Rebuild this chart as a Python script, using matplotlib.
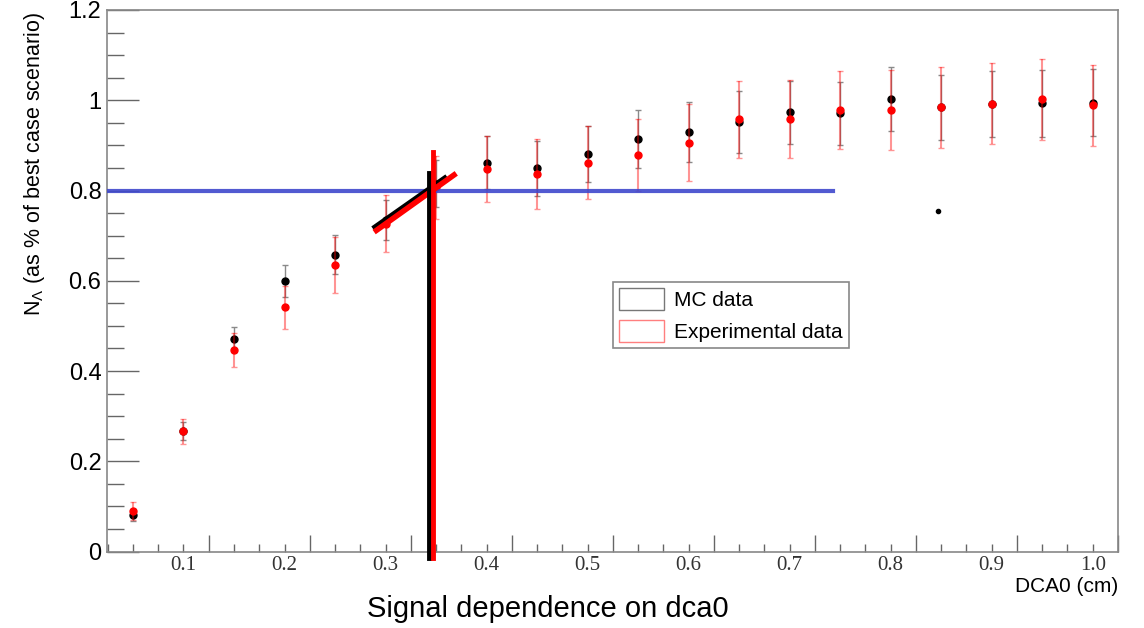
import numpy as np
import matplotlib
matplotlib.use("Agg")
import matplotlib.pyplot as plt
from matplotlib.patches import Patch
from matplotlib.ticker import FixedLocator, MultipleLocator
import matplotlib.transforms as mtransforms

plt.rcParams['font.family'] = ['Liberation Sans', 'DejaVu Sans']
plt.rcParams['mathtext.fontset'] = 'custom'
plt.rcParams['mathtext.rm'] = 'Liberation Sans'
plt.rcParams['mathtext.it'] = 'Liberation Sans:italic'

# dca0 cut values (cm)
dca = [0.05, 0.10, 0.15, 0.20, 0.25, 0.30, 0.35, 0.40, 0.45, 0.50,
       0.55, 0.60, 0.65, 0.70, 0.75, 0.80, 0.85, 0.90, 0.95, 1.00]

mc_val = [0.081, 0.266, 0.470, 0.600, 0.658, 0.735, 0.815, 0.862, 0.849, 0.880,
          0.914, 0.930, 0.952, 0.973, 0.971, 1.002, 0.984, 0.992, 0.993, 0.995]
mc_err = [0.014, 0.020, 0.027, 0.035, 0.043, 0.045, 0.052, 0.058, 0.061, 0.062,
          0.064, 0.066, 0.068, 0.070, 0.070, 0.071, 0.072, 0.073, 0.074, 0.074]

exp_val = [0.090, 0.266, 0.446, 0.541, 0.635, 0.726, 0.807, 0.848, 0.837, 0.862,
           0.879, 0.906, 0.958, 0.958, 0.978, 0.978, 0.984, 0.992, 1.002, 0.989]
exp_err = [0.020, 0.027, 0.038, 0.047, 0.062, 0.063, 0.070, 0.073, 0.078, 0.080,
           0.080, 0.085, 0.085, 0.086, 0.087, 0.089, 0.090, 0.090, 0.090, 0.090]

# stray point
stray_x = [0.847]
stray_y = [0.754]

# 80% threshold line and fitted crossings
thr_y = 0.8
thr_x = [0.0243, 0.743]
mc_fit_x = [0.2875, 0.3608]
mc_fit_y = [0.7153, 0.8306]
exp_fit_x = [0.2887, 0.370]
exp_fit_y = [0.708, 0.838]
mc_cut_x = 0.343
mc_cut_y = [-0.0144, 0.8394]
exp_cut_x = 0.347
exp_cut_y = [-0.0144, 0.8847]

xlabels = ['0.1', '0.2', '0.3', '0.4', '0.5', '0.6', '0.7', '0.8', '0.9', '1.0']
xlabel_pos = [0.1, 0.2, 0.3, 0.4, 0.5, 0.6, 0.7, 0.8, 0.9, 1.0]

fig = plt.figure(figsize=(11.44, 6.28), dpi=100)
ax = fig.add_axes([107/1144, 1-551.5/628, (1118-107)/1144, (551.5-10)/628])

ax.errorbar(dca, mc_val, yerr=mc_err, fmt='o', color='black', ms=5,
            ecolor='#8a8a8a', elinewidth=1, capsize=2, capthick=1, zorder=3)
ax.errorbar(dca, exp_val, yerr=exp_err, fmt='o', color='red', ms=5,
            ecolor=(1, 0, 0, 0.42), elinewidth=1.5, capsize=2, capthick=1, zorder=4)
ax.plot(stray_x, stray_y, 'o', color='black', ms=3, zorder=4)

ax.plot(thr_x, [thr_y, thr_y], color='#3f48cc', lw=3, alpha=0.9, zorder=5)
ax.plot(mc_fit_x, mc_fit_y, color='black', lw=4, zorder=5, solid_capstyle='butt')
ax.plot(exp_fit_x, exp_fit_y, color='red', lw=4, zorder=5, solid_capstyle='butt')
ax.plot([mc_cut_x, mc_cut_x], mc_cut_y, color='black', lw=3.5, zorder=6, clip_on=False)
ax.plot([exp_cut_x, exp_cut_x], exp_cut_y, color='red', lw=3.5, zorder=6, clip_on=False)

ax.set_xlim(0.0243, 1.025)
ax.set_ylim(0, 1.2)

for s in ax.spines.values():
    s.set_color('#888888')
    s.set_linewidth(1.2)

ax.yaxis.set_major_locator(MultipleLocator(0.2))
ax.yaxis.set_minor_locator(MultipleLocator(0.05))
ax.xaxis.set_major_locator(FixedLocator(np.arange(0.125, 1.03, 0.1)))
ax.xaxis.set_minor_locator(MultipleLocator(0.025))
ax.tick_params(axis='y', which='major', direction='in', length=23, width=1,
               color='#666666', labelsize=17, pad=4)
ax.tick_params(axis='y', which='minor', direction='in', length=12, width=1, color='#666666')
ax.tick_params(axis='x', which='major', direction='in', length=12, width=1,
               color='#666666', labelbottom=False)
ax.tick_params(axis='x', which='minor', direction='in', length=6, width=1, color='#666666')
ax.set_yticks([0, 0.2, 0.4, 0.6, 0.8, 1.0, 1.2])
ax.set_yticklabels(['0', '0.2', '0.4', '0.6', '0.8', '1', '1.2'])

trans = mtransforms.blended_transform_factory(ax.transData, ax.transAxes)
for xp, lab in zip(xlabel_pos, xlabels):
    ax.text(xp, -0.026, lab, transform=trans, ha='center', va='center',
            fontsize=15, family=['Liberation Serif'], color='#333333')

fig.text(1118/1144, 1-587/628, 'DCA0 (cm)', ha='right', va='center', fontsize=15)
fig.text(548/1144, 1-609/628, 'Signal dependence on dca0', ha='center', va='center', fontsize=21)
fig.text(35/1144, 1-164/628, r'N$_{\Lambda}$ (as % of best case scenario)',
         rotation=90, ha='center', va='center', fontsize=15.5)

handles = [Patch(facecolor='white', edgecolor='#777777', lw=1),
           Patch(facecolor='white', edgecolor='#ff7f7f', lw=1)]
leg = fig.legend(handles, ['MC data', 'Experimental data'], loc='upper left',
                 bbox_to_anchor=(613/1144, 1-282/628), fontsize=15, frameon=True,
                 fancybox=False, edgecolor='#888888', framealpha=1,
                 handlelength=2.15, handleheight=1.24, handletextpad=0.48,
                 labelspacing=0.48, borderpad=0.3, borderaxespad=0)
leg.get_frame().set_linewidth(1.2)

plt.savefig('out.png', dpi=100)
